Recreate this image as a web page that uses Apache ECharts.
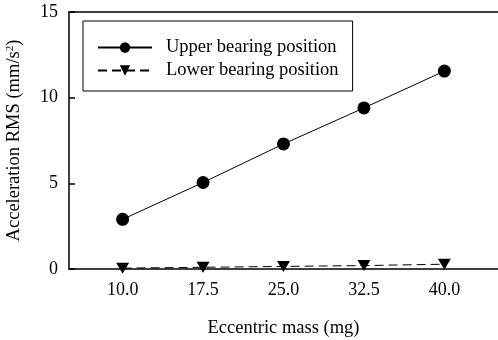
<!DOCTYPE html>
<html><head><meta charset="utf-8">
<script src="https://cdn.jsdelivr.net/npm/echarts@6/dist/echarts.min.js"></script>
<style>html,body{margin:0;padding:0;background:#fff}#c{width:498px;height:340px}</style>
</head><body><div id="c"></div>
<script>
const massValues = [10.0, 17.5, 25.0, 32.5, 40.0];
const upperRMS = [2.9, 5.05, 7.3, 9.4, 11.55];
const lowerRMS = [0.05, 0.1, 0.15, 0.2, 0.28];
const xTickLabels = [10.0, 17.5, 25.0, 32.5, 40.0];
const yTicks = [0, 5, 10, 15];
const seriesNames = ['Upper bearing position', 'Lower bearing position'];

const font = 'Liberation Serif';
const fs = 18;
const chart = echarts.init(document.getElementById('c'));
chart.setOption({
  animation: false,
  textStyle: { fontFamily: font, color: '#000' },
  grid: { left: 69, top: 12, right: 0, bottom: 71, outerBoundsMode: 'none', containLabel: false },
  legend: {
    orient: 'vertical', left: 83, top: 21, width: 271,
    padding: [17, 14, 11, 14],
    itemWidth: 54, itemHeight: 13, itemGap: 4,
    borderColor: '#000', borderWidth: 1,
    textStyle: { fontFamily: font, fontSize: 18.5, color: '#000', padding: [0, 0, 0, 9] },
    data: seriesNames
  },
  xAxis: [{
    type: 'value', min: 5, max: 45,
    axisLine: { show: true, lineStyle: { color: '#000', width: 1.5 } },
    axisTick: { show: false },
    splitLine: { show: false },
    axisLabel: { customValues: xTickLabels, formatter: v => v.toFixed(1), fontSize: fs, color: '#000', fontFamily: font, margin: 12 },
    name: 'Eccentric mass (mg)', nameLocation: 'middle', nameGap: 50,
    nameTextStyle: { fontSize: 18.5, color: '#000', fontFamily: font }
  }, {
    type: 'value', min: 5, max: 45, position: 'top',
    axisLine: { show: true, onZero: false, lineStyle: { color: '#000', width: 1.5 } },
    axisTick: { show: false }, axisLabel: { show: false }, splitLine: { show: false }
  }],
  yAxis: {
    type: 'value', min: 0, max: 15, interval: 5,
    axisLine: { show: true, lineStyle: { color: '#000', width: 1.5 } },
    axisTick: { show: true, inside: true, length: 6, lineStyle: { color: '#000', width: 1.5 } },
    splitLine: { show: false },
    axisLabel: { fontSize: fs, color: '#000', fontFamily: font, margin: 11 },
    name: 'Acceleration RMS (mm/s{sup|2})', nameLocation: 'middle', nameGap: 45,
    nameTextStyle: { fontSize: 18.5, color: '#000', fontFamily: font, rich: { sup: { fontSize: 11, verticalAlign: 'top', padding: [0, 0, 8, 0], fontFamily: font, color: '#000' } } }
  },
  series: [{
    name: seriesNames[0], type: 'line',
    data: massValues.map((m, i) => [m, upperRMS[i]]),
    symbol: 'circle', symbolSize: 13,
    lineStyle: { color: '#000', width: 1 },
    itemStyle: { color: '#000' }
  }, {
    name: seriesNames[1], type: 'line',
    data: massValues.map((m, i) => [m, lowerRMS[i]]),
    symbol: 'triangle', symbolSize: [13, 11], symbolRotate: 180,
    lineStyle: { color: '#000', width: 1, type: [9, 5] },
    itemStyle: { color: '#000' }
  }]
});
</script></body></html>
